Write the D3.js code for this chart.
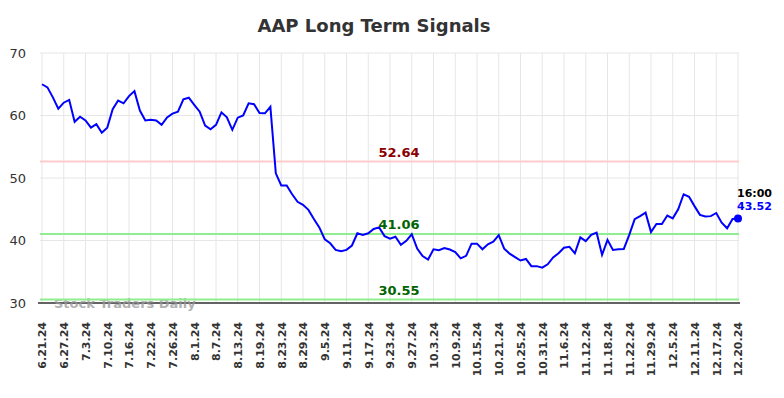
<!DOCTYPE html>
<html>
<head>
<meta charset="utf-8">
<script src="https://cdn.jsdelivr.net/npm/d3@7"></script>
<style>
  body { margin: 0; background: #fff; }
  svg { font-family: "DejaVu Sans", sans-serif; }
</style>
</head>
<body>
<div id="chart"></div>
<script>
var svgWidth = 784;
var svgHeight = 398;

var margin = { top: 53, right: 45, bottom: 95, left: 42 };

var width = svgWidth - margin.left - margin.right;
var height = svgHeight - margin.top - margin.bottom;

// Closing prices, one per session (last one is the 16:00 print)
var prices = [
    65.0, 64.5, 62.9, 61.1, 62.05, 62.5, 59.0, 59.8, 59.2, 58.05,
    58.6, 57.25, 58.05, 61.0, 62.4, 61.95, 63.1, 63.9, 60.8, 59.2,
    59.3, 59.2, 58.5, 59.7, 60.3, 60.6, 62.6, 62.85, 61.7, 60.6,
    58.4, 57.8, 58.5, 60.5, 59.7, 57.7, 59.65, 60.0, 61.95, 61.8,
    60.4, 60.35, 61.4, 50.75, 48.8, 48.8, 47.4, 46.2, 45.7, 44.9,
    43.45, 42.1, 40.2, 39.55, 38.5, 38.3, 38.5, 39.2, 41.15, 40.9,
    41.15, 41.85, 42.1, 40.7, 40.3, 40.6, 39.3, 39.95, 41.0, 38.7,
    37.5, 36.95, 38.6, 38.45, 38.8, 38.55, 38.15, 37.15, 37.55, 39.5,
    39.5, 38.6, 39.4, 39.8, 40.85, 38.7, 37.9, 37.35, 36.8, 37.05,
    35.9, 35.9, 35.65, 36.2, 37.3, 37.95, 38.85, 39.0, 37.95, 40.5,
    39.9, 40.9, 41.25, 37.7, 40.1, 38.5, 38.6, 38.65, 40.9, 43.4,
    43.9, 44.45, 41.35, 42.65, 42.65, 44.0, 43.55, 45.0, 47.4, 47.0,
    45.5, 44.1, 43.85, 43.9, 44.4, 42.85, 41.95, 43.45, 43.52
];

// Date labels shown every 4th session
var tickLabels = [
    "6.21.24", "6.27.24", "7.3.24", "7.10.24", "7.16.24", "7.22.24", "7.26.24",
    "8.1.24", "8.7.24", "8.13.24", "8.19.24", "8.23.24", "8.29.24", "9.5.24",
    "9.11.24", "9.17.24", "9.23.24", "9.27.24", "10.3.24", "10.9.24", "10.15.24",
    "10.21.24", "10.25.24", "10.31.24", "11.6.24", "11.12.24", "11.18.24",
    "11.22.24", "11.29.24", "12.5.24", "12.11.24", "12.17.24", "12.20.24"
];
var tickStep = 4;

var yTicks = [30, 40, 50, 60, 70];

// Signal levels
var levelValues = [52.64, 41.06, 30.55];
var levelKinds = ["resistance", "support", "support"];

var lastTime = "16:00";

var svg = d3.select("#chart")
    .append("svg")
    .attr("width", svgWidth)
    .attr("height", svgHeight);

var chartGroup = svg.append("g")
    .attr("transform", `translate(${margin.left}, ${margin.top})`);

var xScale = d3.scaleLinear()
    .domain([0, prices.length - 1])
    .range([0, width - 1]);

var yScale = d3.scaleLinear()
    .domain([30, 70])
    .range([height, 0]);

var tickIdx = tickLabels.map((d, i) => i * tickStep);

// title
svg.append("text")
    .attr("x", 374)
    .attr("y", 32)
    .attr("text-anchor", "middle")
    .attr("font-size", 18)
    .attr("font-weight", "bold")
    .attr("fill", "#333")
    .text("AAP Long Term Signals");

// grid lines
chartGroup.append("g")
    .selectAll("line")
    .data(yTicks)
    .enter()
    .append("line")
    .attr("x1", -2)
    .attr("x2", width)
    .attr("y1", d => yScale(d))
    .attr("y2", d => yScale(d))
    .attr("stroke", "#e6e6e6");

chartGroup.append("g")
    .selectAll("line")
    .data(tickIdx)
    .enter()
    .append("line")
    .attr("x1", d => xScale(d))
    .attr("x2", d => xScale(d))
    .attr("y1", 0)
    .attr("y2", height)
    .attr("stroke", "#e6e6e6");

// y axis labels
var leftAxis = d3.axisLeft(yScale).tickValues(yTicks).tickSize(0).tickPadding(16);
var yAxisG = chartGroup.append("g").call(leftAxis);
yAxisG.select(".domain").remove();
yAxisG.selectAll("text")
    .attr("font-size", 13)
    .attr("font-family", "DejaVu Sans, sans-serif")
    .attr("fill", "#333");

// x axis
var bottomAxis = d3.axisBottom(xScale)
    .tickValues(tickIdx)
    .tickFormat((d, i) => tickLabels[i])
    .tickSize(0);
var xAxisG = chartGroup.append("g")
    .attr("transform", `translate(0, ${height})`)
    .call(bottomAxis);
xAxisG.select(".domain")
    .attr("d", `M-4,0H${width + 1}`)
    .attr("stroke", "#333")
    .attr("stroke-width", 1.5);
xAxisG.selectAll("text")
    .attr("font-size", 11)
    .attr("font-weight", "bold")
    .attr("font-family", "DejaVu Sans, sans-serif")
    .attr("fill", "#333")
    .attr("text-anchor", "end")
    .attr("transform", "rotate(-90)")
    .attr("x", -19)
    .attr("y", 0)
    .attr("dy", "0.35em");

// watermark
chartGroup.append("text")
    .attr("x", 12)
    .attr("y", height + 5)
    .attr("font-size", 13)
    .attr("font-weight", "bold")
    .attr("fill", "#999")
    .attr("opacity", 0.75)
    .text("Stock Traders Daily");

// level lines
chartGroup.append("g")
    .selectAll("line")
    .data(levelValues)
    .enter()
    .append("line")
    .attr("x1", -2)
    .attr("x2", width)
    .attr("y1", d => yScale(d))
    .attr("y2", d => yScale(d))
    .attr("stroke", (d, i) => levelKinds[i] === "resistance" ? "#ffcccc" : "#90ee90")
    .attr("stroke-width", 2);

chartGroup.append("g")
    .selectAll("text")
    .data(levelValues)
    .enter()
    .append("text")
    .attr("x", 357)
    .attr("y", d => yScale(d) - 5)
    .attr("text-anchor", "middle")
    .attr("font-size", 13)
    .attr("font-weight", "bold")
    .attr("fill", (d, i) => levelKinds[i] === "resistance" ? "#8b0000" : "#006400")
    .text(d => d.toFixed(2));

// price line
var line = d3.line()
    .x((d, i) => xScale(i))
    .y(d => yScale(d));

chartGroup.append("path")
    .datum(prices)
    .attr("fill", "none")
    .attr("stroke", "#0000ff")
    .attr("stroke-width", 2)
    .attr("d", line);

// last point
var lastIdx = prices.length - 1;
var lastVal = prices[lastIdx];

chartGroup.append("circle")
    .attr("cx", xScale(lastIdx))
    .attr("cy", yScale(lastVal))
    .attr("r", 4)
    .attr("fill", "#0000ff");

chartGroup.append("text")
    .attr("x", xScale(lastIdx) - 1)
    .attr("y", yScale(lastVal) - 22)
    .attr("font-size", 11)
    .attr("font-weight", "bold")
    .attr("fill", "#000")
    .text(lastTime);

chartGroup.append("text")
    .attr("x", xScale(lastIdx) - 1)
    .attr("y", yScale(lastVal) - 9)
    .attr("font-size", 11)
    .attr("font-weight", "bold")
    .attr("fill", "#0000ff")
    .text(lastVal.toFixed(2));
</script>
</body>
</html>
